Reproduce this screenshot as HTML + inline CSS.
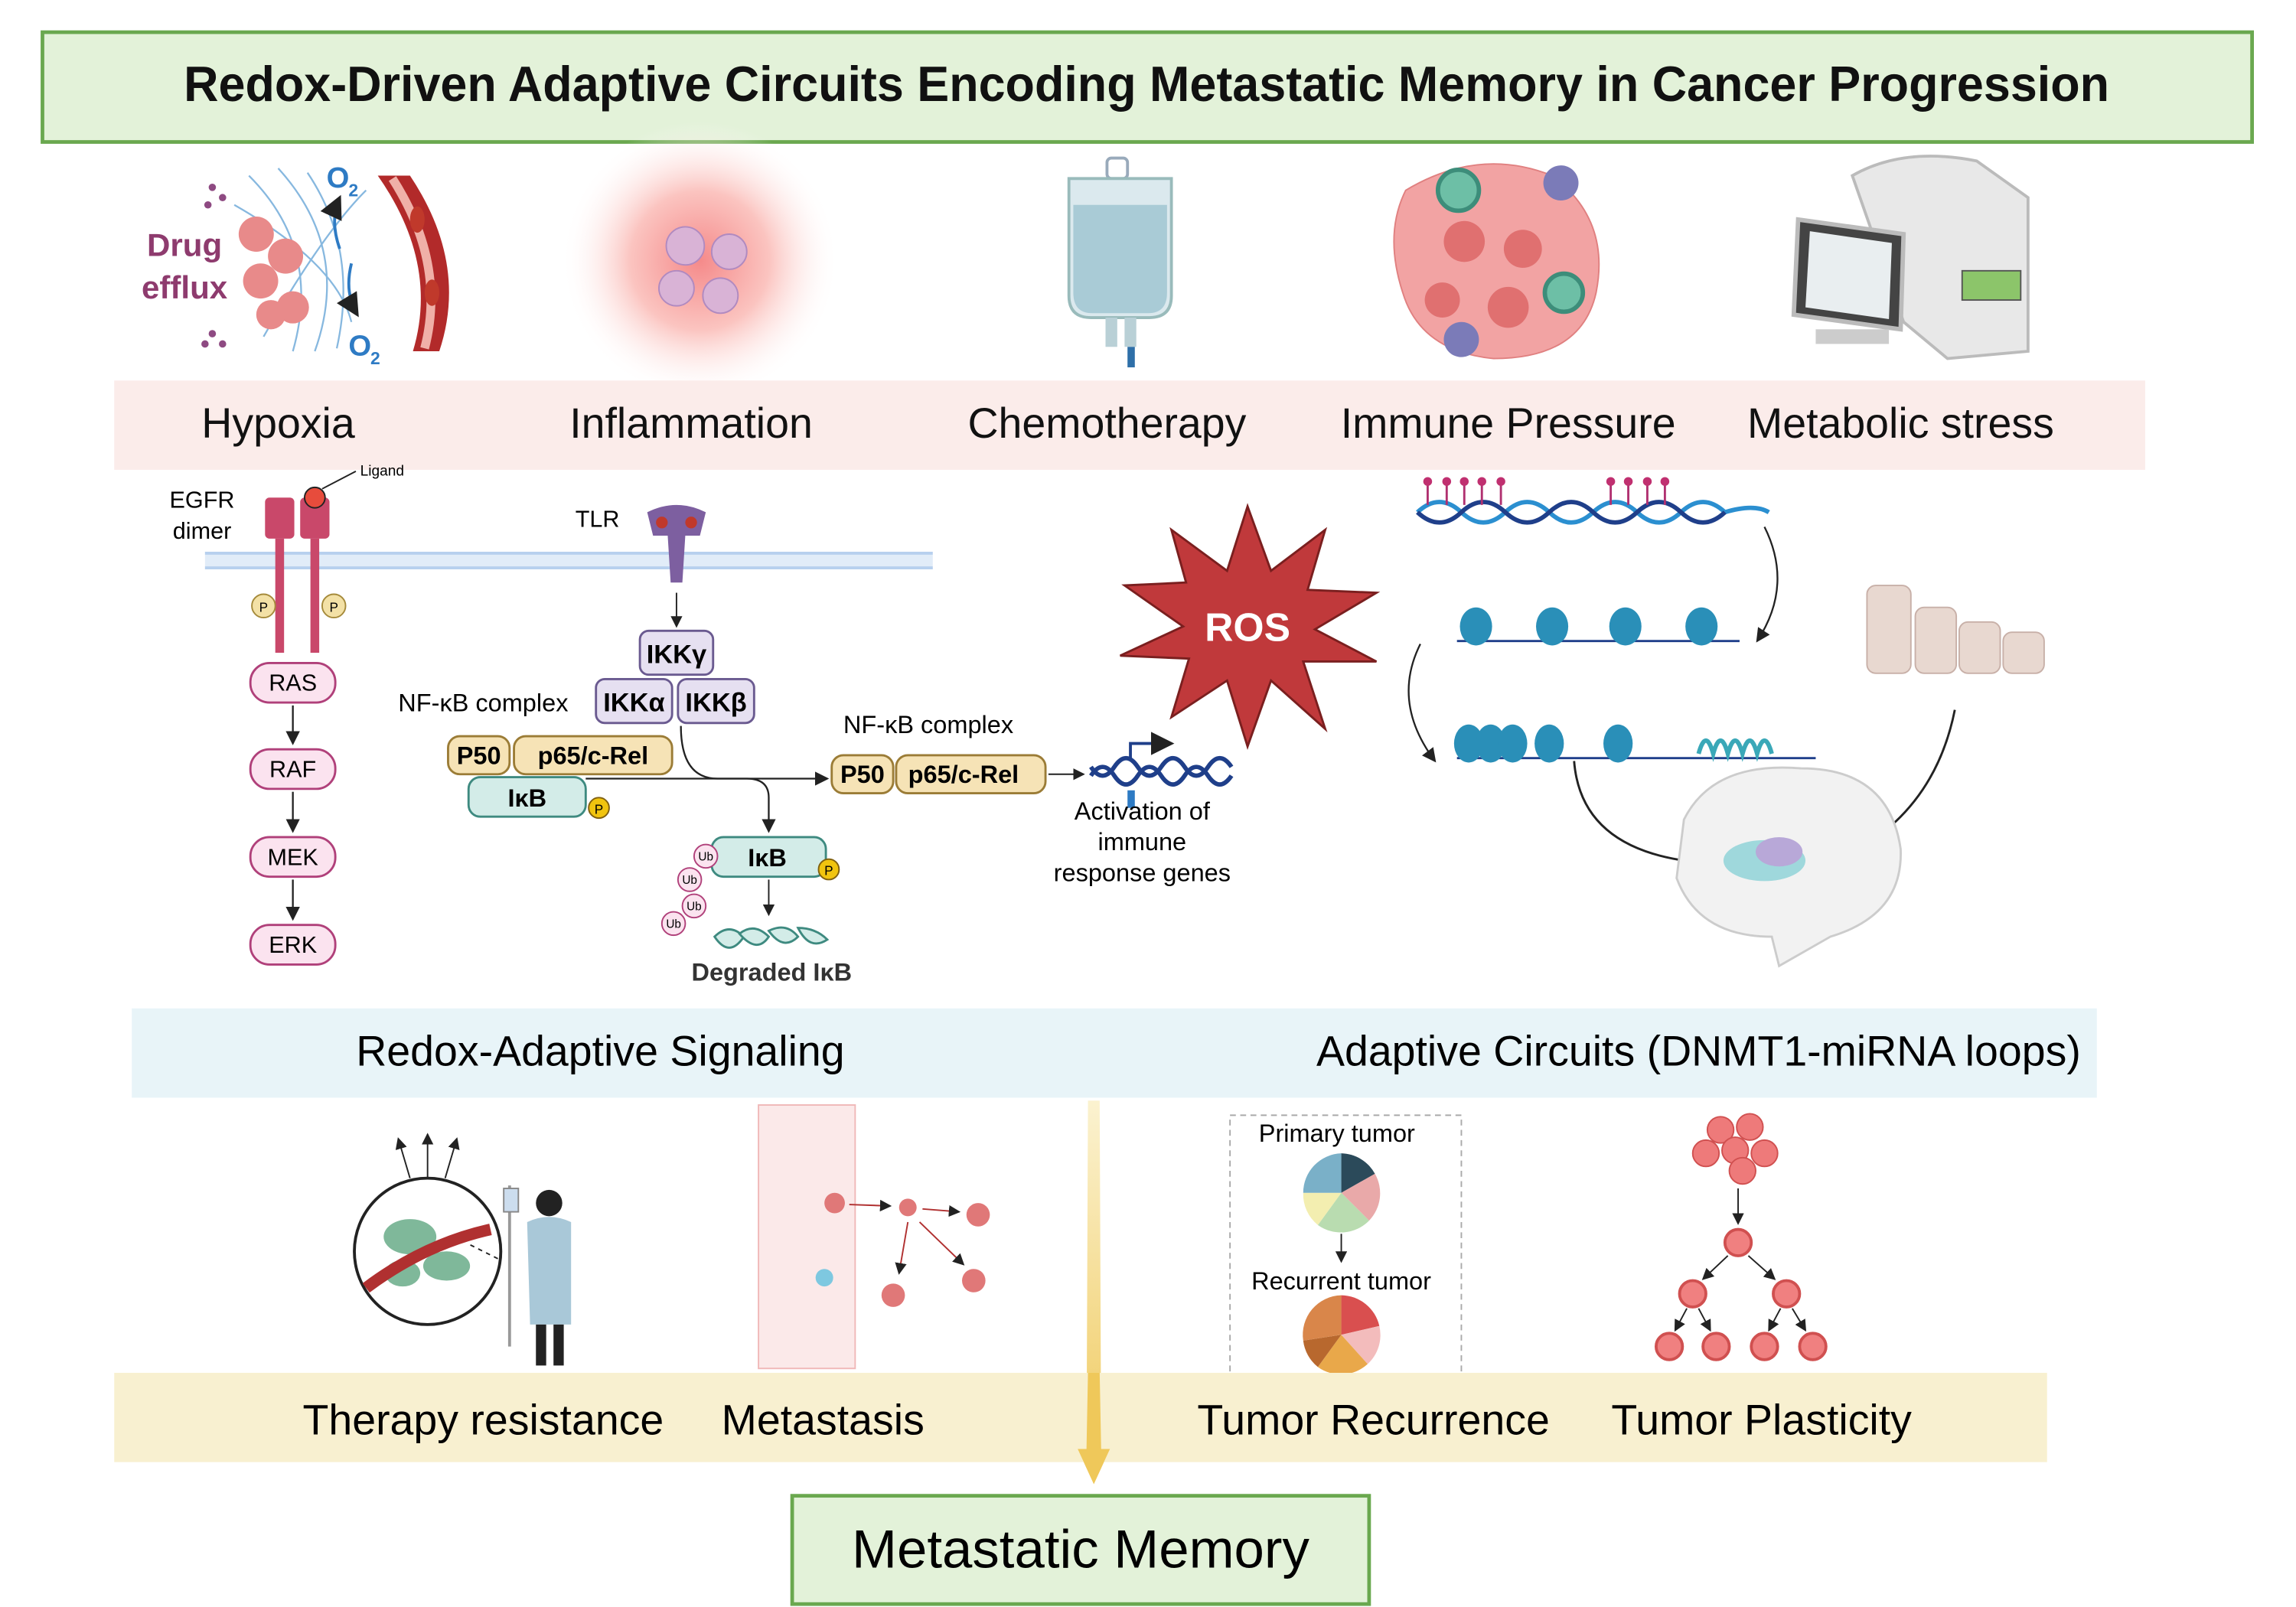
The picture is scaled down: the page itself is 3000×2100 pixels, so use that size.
<!DOCTYPE html>
<html><head><meta charset="utf-8"><style>
html,body{margin:0;padding:0;background:#fff;width:3000px;height:2100px;overflow:hidden}
svg{display:block}
text{font-family:"Liberation Sans",sans-serif}
</style></head><body>
<svg width="3000" height="2100" viewBox="0 0 1568 1098" preserveAspectRatio="none" xmlns="http://www.w3.org/2000/svg">
<defs>
<linearGradient id="ya" x1="0" y1="0" x2="0" y2="1"><stop offset="0" stop-color="#fbf2d0"/><stop offset="1" stop-color="#efc85a"/></linearGradient>
<radialGradient id="infl"><stop offset="0" stop-color="#f58a8a"/><stop offset="0.5" stop-color="#fbc4c0"/><stop offset="1" stop-color="#fff" stop-opacity="0"/></radialGradient>
<marker id="ar" markerWidth="8" markerHeight="8" refX="7" refY="4" orient="auto"><path d="M0,0 L8,4 L0,8 z" fill="#222"/></marker>
</defs>
<!-- title -->
<rect x="29" y="22" width="1509" height="75" fill="#e3f2d9" stroke="#6aa84f" stroke-width="2.5"/>
<text x="783" y="69" font-size="34" text-anchor="middle" fill="#111" font-weight="bold" textLength="1315" lengthAdjust="spacingAndGlyphs">Redox-Driven Adaptive Circuits Encoding Metastatic Memory in Cancer Progression</text>

<!-- top icons -->
<g>
 <path d="M258,120 Q300,180 282,240 L300,240 Q320,180 280,120 z" fill="#b22a2a"/>
 <path d="M268,122 Q305,180 290,238" stroke="#f0b0a8" stroke-width="6" fill="none"/>
 <ellipse cx="285" cy="150" rx="5" ry="9" fill="#c0392b"/><ellipse cx="295" cy="200" rx="5" ry="9" fill="#c0392b"/>
 <g stroke="#6aa7d8" stroke-width="1.2" fill="none" opacity="0.8">
  <path d="M170,120 Q220,170 200,240"/><path d="M190,115 Q240,170 215,240"/><path d="M210,118 Q245,170 230,238"/><path d="M160,140 Q230,180 240,220"/><path d="M180,230 Q220,160 250,130"/>
 </g>
 <g fill="#e88a8a"><circle cx="175" cy="160" r="12"/><circle cx="195" cy="175" r="12"/><circle cx="178" cy="192" r="12"/><circle cx="200" cy="210" r="11"/><circle cx="185" cy="215" r="10"/></g>
 <text x="126" y="175" font-size="22" fill="#8e3b6e" font-weight="bold" text-anchor="middle">Drug</text>
 <text x="126" y="204" font-size="22" fill="#8e3b6e" font-weight="bold" text-anchor="middle">efflux</text>
 <g fill="#8e4a82"><circle cx="145" cy="128" r="2.5"/><circle cx="152" cy="135" r="2.5"/><circle cx="142" cy="140" r="2.5"/><circle cx="145" cy="228" r="2.5"/><circle cx="152" cy="235" r="2.5"/><circle cx="140" cy="235" r="2.5"/></g>
 <text x="223" y="128" font-size="20" fill="#2e7bc4" font-weight="bold">O</text><text x="238" y="134" font-size="12" fill="#2e7bc4" font-weight="bold">2</text>
 <text x="238" y="243" font-size="20" fill="#2e7bc4" font-weight="bold">O</text><text x="253" y="249" font-size="12" fill="#2e7bc4" font-weight="bold">2</text>
 <path d="M232,170 Q225,150 232,135" stroke="#2e7bc4" stroke-width="2" fill="none" marker-end="url(#ar)"/>
 <path d="M240,180 Q235,200 244,215" stroke="#2e7bc4" stroke-width="2" fill="none" marker-end="url(#ar)"/>
</g>
<circle cx="478" cy="178" r="95" fill="url(#infl)"/>
<g fill="#d9b3d6" stroke="#b08ac0"><circle cx="468" cy="168" r="13"/><circle cx="498" cy="172" r="12"/><circle cx="462" cy="197" r="12"/><circle cx="492" cy="202" r="12"/></g>
<!-- IV bag -->
<g>
 <rect x="756" y="108" width="14" height="14" rx="3" fill="none" stroke="#9ab" stroke-width="2"/>
 <path d="M730,122 h70 v80 q0,15 -15,15 h-40 q-15,0 -15,-15 z" fill="#dbe9ee" stroke="#9bb" stroke-width="2"/>
 <path d="M733,140 h64 v60 q0,14 -13,14 h-38 q-13,0 -13,-14 z" fill="#a9cbd6"/>
 <rect x="755" y="217" width="8" height="20" fill="#b9d0d6"/><rect x="768" y="217" width="8" height="20" fill="#b9d0d6"/><rect x="770" y="237" width="5" height="14" fill="#2e6fa8"/>
</g>
<!-- immune -->
<g>
 <path d="M960,130 Q1010,100 1060,120 Q1100,150 1090,200 Q1080,245 1020,245 Q970,240 958,200 Q945,160 960,130 z" fill="#f2a3a3" stroke="#e08080"/>
 <g fill="#e07070"><circle cx="1000" cy="165" r="14"/><circle cx="1040" cy="170" r="13"/><circle cx="1030" cy="210" r="14"/><circle cx="985" cy="205" r="12"/></g>
 <circle cx="996" cy="130" r="14" fill="#6dbfa6" stroke="#3d8d7a" stroke-width="3"/>
 <circle cx="1066" cy="125" r="12" fill="#7b7bb8"/>
 <circle cx="1068" cy="200" r="13" fill="#6dbfa6" stroke="#3d8d7a" stroke-width="3"/>
 <circle cx="998" cy="232" r="12" fill="#7b7bb8"/>
</g>
<!-- machine -->
<g>
 <path d="M1265,120 Q1300,100 1350,110 L1385,135 L1385,240 L1330,245 L1300,220 z" fill="#e8e8e8" stroke="#bbb" stroke-width="2"/>
 <rect x="1340" y="185" width="40" height="20" fill="#8cc56a" stroke="#555"/>
 <path d="M1228,150 L1300,160 L1298,225 L1225,215 z" fill="#444" stroke="#bbb" stroke-width="3"/>
 <path d="M1236,158 L1292,166 L1290,218 L1233,210 z" fill="#e9eef0"/>
 <rect x="1240" y="225" width="50" height="10" fill="#ccc"/>
</g>

<!-- pink band -->
<rect x="78" y="260" width="1387" height="61" fill="#fbecea"/>
<g font-size="29" fill="#111" text-anchor="middle">
<text x="190" y="299">Hypoxia</text><text x="472" y="299">Inflammation</text><text x="756" y="299">Chemotherapy</text><text x="1030" y="299">Immune Pressure</text><text x="1298" y="299">Metabolic stress</text>
</g>

<!-- membrane -->
<rect x="140" y="377" width="497" height="12" fill="#e1ecf8"/>
<line x1="140" y1="378" x2="637" y2="378" stroke="#b7d0ee" stroke-width="2"/><line x1="140" y1="388" x2="637" y2="388" stroke="#b7d0ee" stroke-width="2"/>
<!-- EGFR -->
<text x="138" y="347" font-size="16" text-anchor="middle">EGFR</text><text x="138" y="368" font-size="16" text-anchor="middle">dimer</text>
<rect x="181" y="340" width="20" height="28" rx="3" fill="#c9486a"/><rect x="205" y="340" width="20" height="28" rx="3" fill="#c9486a"/>
<rect x="188" y="368" width="6" height="78" fill="#c9486a"/><rect x="212" y="368" width="6" height="78" fill="#c9486a"/>
<circle cx="215" cy="340" r="7" fill="#e74c3c" stroke="#222"/>
<line x1="220" y1="334" x2="243" y2="322" stroke="#222"/><text x="246" y="325" font-size="10">Ligand</text>
<circle cx="180" cy="414" r="8" fill="#f3e1a6" stroke="#a58a3a"/><text x="180" y="418" font-size="9" text-anchor="middle">P</text>
<circle cx="228" cy="414" r="8" fill="#f3e1a6" stroke="#a58a3a"/><text x="228" y="418" font-size="9" text-anchor="middle">P</text>
<g font-size="16" text-anchor="middle">
 <rect x="171" y="453" width="58" height="27" rx="13" fill="#fbe3ef" stroke="#b0407a" stroke-width="1.5"/><text x="200" y="472">RAS</text>
 <rect x="171" y="512" width="58" height="27" rx="13" fill="#fbe3ef" stroke="#b0407a" stroke-width="1.5"/><text x="200" y="531">RAF</text>
 <rect x="171" y="572" width="58" height="27" rx="13" fill="#fbe3ef" stroke="#b0407a" stroke-width="1.5"/><text x="200" y="591">MEK</text>
 <rect x="171" y="632" width="58" height="27" rx="13" fill="#fbe3ef" stroke="#b0407a" stroke-width="1.5"/><text x="200" y="651">ERK</text>
</g>
<g stroke="#222" stroke-width="1.2" marker-end="url(#ar)"><line x1="200" y1="482" x2="200" y2="508"/><line x1="200" y1="541" x2="200" y2="568"/><line x1="200" y1="601" x2="200" y2="628"/></g>
<!-- TLR -->
<text x="408" y="360" font-size="16" text-anchor="middle">TLR</text>
<path d="M442,350 Q462,340 482,350 L478,366 L468,366 L466,398 L458,398 L456,366 L446,366 z" fill="#7d5fa0"/>
<circle cx="452" cy="357" r="4" fill="#c0392b"/><circle cx="472" cy="357" r="4" fill="#c0392b"/>
<line x1="462" y1="405" x2="462" y2="428" stroke="#222" marker-end="url(#ar)"/>
<g font-size="18" text-anchor="middle" font-weight="bold">
 <rect x="437" y="431" width="50" height="30" rx="6" fill="#e6e0f1" stroke="#6a5a90" stroke-width="1.5"/><text x="462" y="453">IKKγ</text>
 <rect x="407" y="464" width="52" height="30" rx="6" fill="#e6e0f1" stroke="#6a5a90" stroke-width="1.5"/><text x="433" y="486">IKKα</text>
 <rect x="463" y="464" width="52" height="30" rx="6" fill="#e6e0f1" stroke="#6a5a90" stroke-width="1.5"/><text x="489" y="486">IKKβ</text>
</g>
<text x="330" y="486" font-size="17" text-anchor="middle">NF-κB complex</text>
<g font-size="17" text-anchor="middle" font-weight="bold">
 <rect x="306" y="503" width="42" height="26" rx="8" fill="#f6e3b6" stroke="#9b7c36" stroke-width="1.5"/><text x="327" y="522">P50</text>
 <rect x="351" y="503" width="108" height="26" rx="8" fill="#f6e3b6" stroke="#9b7c36" stroke-width="1.5"/><text x="405" y="522">p65/c-Rel</text>
 <rect x="320" y="531" width="80" height="27" rx="8" fill="#d3ece8" stroke="#3e8a80" stroke-width="1.5"/><text x="360" y="551">IκB</text>
</g>
<circle cx="409" cy="552" r="7" fill="#f1c40f" stroke="#806010"/><text x="409" y="556" font-size="9" text-anchor="middle">P</text>
<path d="M465,496 Q465,532 490,532 L565,532" stroke="#222" fill="none" stroke-width="1.2" marker-end="url(#ar)"/>
<path d="M400,532 L510,532 Q525,532 525,545 L525,568" stroke="#222" fill="none" stroke-width="1.2" marker-end="url(#ar)"/>
<text x="634" y="501" font-size="17" text-anchor="middle">NF-κB complex</text>
<g font-size="17" text-anchor="middle" font-weight="bold">
 <rect x="568" y="516" width="42" height="26" rx="8" fill="#f6e3b6" stroke="#9b7c36" stroke-width="1.5"/><text x="589" y="535">P50</text>
 <rect x="612" y="516" width="102" height="26" rx="8" fill="#f6e3b6" stroke="#9b7c36" stroke-width="1.5"/><text x="658" y="535">p65/c-Rel</text>
 <rect x="486" y="572" width="78" height="27" rx="8" fill="#d3ece8" stroke="#3e8a80" stroke-width="1.5"/><text x="524" y="592">IκB</text>
</g>
<circle cx="566" cy="594" r="7" fill="#f1c40f" stroke="#806010"/><text x="566" y="598" font-size="9" text-anchor="middle">P</text>
<g fill="#fbe3ef" stroke="#b0407a"><circle cx="482" cy="585" r="8"/><circle cx="471" cy="601" r="8"/><circle cx="474" cy="619" r="8"/><circle cx="460" cy="631" r="8"/></g>
<g font-size="8" text-anchor="middle"><text x="482" y="588">Ub</text><text x="471" y="604">Ub</text><text x="474" y="622">Ub</text><text x="460" y="634">Ub</text></g>
<line x1="525" y1="601" x2="525" y2="625" stroke="#222" marker-end="url(#ar)"/>
<g fill="#d3ece8" stroke="#3e8a80" stroke-width="1.5"><path d="M488,640 q10,-10 20,0 q-10,15 -20,0z"/><path d="M505,638 q10,-8 20,2 q-8,12 -20,-2z"/><path d="M525,636 q12,-6 20,4 q-10,10 -20,-4z"/><path d="M545,634 q12,0 20,8 q-12,8 -20,-8z"/></g>
<text x="527" y="670" font-size="17" text-anchor="middle" font-weight="bold" fill="#333">Degraded IκB</text>
<line x1="716" y1="529" x2="740" y2="529" stroke="#222" marker-end="url(#ar)"/>
<path d="M745,530 q8,-12 16,0 t16,0 t16,0 t16,0 t16,0 t16,0" stroke="#1f3f8a" stroke-width="3" fill="none"/>
<path d="M745,524 q8,12 16,0 t16,0 t16,0 t16,0 t16,0 t16,0" stroke="#1f3f8a" stroke-width="3" fill="none"/>
<path d="M772,518 v-10 h28" stroke="#1f3f8a" stroke-width="2" fill="none" marker-end="url(#ar)"/>
<rect x="770" y="540" width="5" height="12" fill="#2e7bc4"/>
<g font-size="17" text-anchor="middle"><text x="780" y="560">Activation of</text><text x="780" y="581">immune</text><text x="780" y="602">response genes</text></g>
<!-- ROS -->
<polygon points="852,346 868,390 905,362 893,403 940,405 898,430 940,452 890,452 905,498 868,465 852,510 838,465 800,490 812,450 765,448 808,428 768,400 810,398 800,362 838,390" fill="#c0393b" stroke="#7a1f1f" stroke-width="1.5"/>
<text x="852" y="438" font-size="27" fill="#fff" text-anchor="middle" font-weight="bold">ROS</text>
<!-- epigenetics -->
<path d="M968,350 q15,-14 30,0 t30,0 t30,0 t30,0 t30,0 t30,0 t30,0 q20,-6 30,0" stroke="#2b8fd0" stroke-width="3" fill="none"/>
<path d="M968,350 q15,14 30,0 t30,0 t30,0 t30,0 t30,0 t30,0 t30,0" stroke="#1f3f8a" stroke-width="3" fill="none"/>
<g stroke="#b03070" stroke-width="1.5"><line x1="975" y1="345" x2="975" y2="330"/><line x1="988" y1="345" x2="988" y2="330"/><line x1="1000" y1="345" x2="1000" y2="330"/><line x1="1012" y1="345" x2="1012" y2="330"/><line x1="1025" y1="345" x2="1025" y2="330"/><line x1="1100" y1="345" x2="1100" y2="330"/><line x1="1112" y1="345" x2="1112" y2="330"/><line x1="1125" y1="345" x2="1125" y2="330"/><line x1="1137" y1="345" x2="1137" y2="330"/></g>
<g fill="#c03070"><circle cx="975" cy="329" r="3"/><circle cx="988" cy="329" r="3"/><circle cx="1000" cy="329" r="3"/><circle cx="1012" cy="329" r="3"/><circle cx="1025" cy="329" r="3"/><circle cx="1100" cy="329" r="3"/><circle cx="1112" cy="329" r="3"/><circle cx="1125" cy="329" r="3"/><circle cx="1137" cy="329" r="3"/></g>
<path d="M1205,360 Q1225,400 1200,438" stroke="#222" fill="none" stroke-width="1.2" marker-end="url(#ar)"/>
<line x1="995" y1="438" x2="1188" y2="438" stroke="#1f3f8a" stroke-width="1.5"/>
<g fill="#2a8fb8"><ellipse cx="1008" cy="428" rx="11" ry="13"/><ellipse cx="1060" cy="428" rx="11" ry="13"/><ellipse cx="1110" cy="428" rx="11" ry="13"/><ellipse cx="1162" cy="428" rx="11" ry="13"/></g>
<path d="M970,440 Q950,480 980,520" stroke="#222" fill="none" stroke-width="1.2" marker-end="url(#ar)"/>
<line x1="995" y1="518" x2="1240" y2="518" stroke="#1f3f8a" stroke-width="1.5"/>
<g fill="#2a8fb8"><ellipse cx="1003" cy="508" rx="10" ry="13"/><ellipse cx="1018" cy="508" rx="10" ry="13"/><ellipse cx="1033" cy="508" rx="10" ry="13"/><ellipse cx="1058" cy="508" rx="10" ry="13"/><ellipse cx="1105" cy="508" rx="10" ry="13"/></g>
<path d="M1160,515 q5,-18 10,0 q5,-18 10,0 q5,-18 10,0 q5,-18 10,0 q5,-18 10,0" stroke="#3aa8b8" stroke-width="3" fill="none"/>
<path d="M1075,520 Q1080,585 1170,590" stroke="#222" fill="none" stroke-width="1.5" marker-end="url(#ar)"/>
<path d="M1335,485 Q1320,560 1250,590" stroke="#222" fill="none" stroke-width="1.5" marker-end="url(#ar)"/>
<path d="M1150,560 Q1170,520 1230,525 Q1290,525 1298,580 Q1300,625 1250,640 L1215,660 L1210,640 Q1160,640 1145,600 z" fill="#f2f2f2" stroke="#ccc" stroke-width="1.5"/>
<ellipse cx="1205" cy="588" rx="28" ry="14" fill="#9fd8dc"/><ellipse cx="1215" cy="582" rx="16" ry="10" fill="#b8a8d8"/>
<g fill="#e8d8d0" stroke="#c8b0a8"><rect x="1275" y="400" width="30" height="60" rx="6"/><rect x="1308" y="415" width="28" height="45" rx="6"/><rect x="1338" y="425" width="28" height="35" rx="6"/><rect x="1368" y="432" width="28" height="28" rx="6"/></g>

<!-- blue band -->
<rect x="90" y="689" width="1342" height="61" fill="#e8f4f8"/>
<text x="410" y="728" font-size="29" text-anchor="middle">Redox-Adaptive Signaling</text>
<text x="1160" y="728" font-size="29" text-anchor="middle">Adaptive Circuits (DNMT1-miRNA loops)</text>

<!-- yellow arrow -->
<polygon points="743,752 751,752 752,990 758,990 747,1014 736,990 742,990" fill="url(#ya)"/>

<!-- bottom icons -->
<circle cx="292" cy="855" r="50" fill="#fff" stroke="#222" stroke-width="2"/>
<g fill="#7fb89a"><ellipse cx="280" cy="845" rx="18" ry="12"/><ellipse cx="305" cy="865" rx="16" ry="10"/><ellipse cx="275" cy="870" rx="12" ry="9"/></g>
<path d="M250,880 Q290,850 335,840" stroke="#b03030" stroke-width="8" fill="none"/>
<g stroke="#222" stroke-width="1" marker-end="url(#ar)"><line x1="280" y1="805" x2="272" y2="778"/><line x1="292" y1="805" x2="292" y2="775"/><line x1="304" y1="805" x2="312" y2="778"/></g>
<line x1="348" y1="810" x2="348" y2="920" stroke="#999" stroke-width="2"/>
<rect x="344" y="812" width="10" height="16" fill="#cde" stroke="#888"/>
<circle cx="375" cy="822" r="9" fill="#222"/>
<path d="M360,835 Q375,828 390,835 L390,905 L362,905 z" fill="#a9c8d8"/>
<rect x="366" y="905" width="7" height="28" fill="#222"/><rect x="378" y="905" width="7" height="28" fill="#222"/>
<line x1="340" y1="860" x2="320" y2="850" stroke="#222" stroke-dasharray="3,3"/>
<rect x="518" y="755" width="66" height="180" fill="#fbe9e9" stroke="#f0b8b8"/>
<g fill="#e07878"><circle cx="570" cy="822" r="7"/><circle cx="620" cy="825" r="6"/><circle cx="610" cy="885" r="8"/><circle cx="665" cy="875" r="8"/><circle cx="668" cy="830" r="8"/></g>
<circle cx="563" cy="873" r="6" fill="#7ec8e0"/>
<g stroke="#b03030" stroke-width="1" marker-end="url(#ar)" fill="none"><line x1="580" y1="823" x2="608" y2="824"/><line x1="630" y1="826" x2="655" y2="828"/><line x1="620" y1="835" x2="614" y2="870"/><line x1="628" y1="835" x2="658" y2="864"/></g>
<rect x="840" y="762" width="158" height="178" fill="none" stroke="#aaa" stroke-dasharray="4,3"/>
<text x="913" y="780" font-size="17" text-anchor="middle">Primary tumor</text>
<g transform="translate(916,815)"><path d="M0,0 L0,-27 A27,27 0 0 1 23,-13 z" fill="#2b4a5a"/><path d="M0,0 L23,-13 A27,27 0 0 1 19,19 z" fill="#e9a9a9"/><path d="M0,0 L19,19 A27,27 0 0 1 -16,22 z" fill="#b9dcb0"/><path d="M0,0 L-16,22 A27,27 0 0 1 -26,0 z" fill="#f3eeb0"/><path d="M0,0 L-26,0 A27,27 0 0 1 0,-27 z" fill="#7ab0c8"/></g>
<line x1="916" y1="843" x2="916" y2="862" stroke="#222" marker-end="url(#ar)"/>
<text x="916" y="881" font-size="17" text-anchor="middle">Recurrent tumor</text>
<g transform="translate(916,912)"><path d="M0,0 L0,-27 A27,27 0 0 1 26,-6 z" fill="#d94f4f"/><path d="M0,0 L26,-6 A27,27 0 0 1 18,20 z" fill="#f3bcbc"/><path d="M0,0 L18,20 A27,27 0 0 1 -16,22 z" fill="#e9a84a"/><path d="M0,0 L-16,22 A27,27 0 0 1 -26,4 z" fill="#b8682e"/><path d="M0,0 L-26,4 A27,27 0 0 1 0,-27 z" fill="#d9864a"/></g>
<g fill="#ee7a7a" stroke="#d05050"><circle cx="1175" cy="772" r="9"/><circle cx="1195" cy="770" r="9"/><circle cx="1165" cy="788" r="9"/><circle cx="1185" cy="786" r="9"/><circle cx="1205" cy="788" r="9"/><circle cx="1190" cy="800" r="9"/></g>
<g fill="#f08080" stroke="#d05050" stroke-width="2"><circle cx="1187" cy="849" r="9"/><circle cx="1156" cy="884" r="9"/><circle cx="1220" cy="884" r="9"/><circle cx="1140" cy="920" r="9"/><circle cx="1172" cy="920" r="9"/><circle cx="1205" cy="920" r="9"/><circle cx="1238" cy="920" r="9"/></g>
<g stroke="#222" stroke-width="1" marker-end="url(#ar)"><line x1="1187" y1="812" x2="1187" y2="836"/><line x1="1180" y1="858" x2="1163" y2="874"/><line x1="1194" y1="858" x2="1212" y2="874"/><line x1="1152" y1="894" x2="1144" y2="909"/><line x1="1160" y1="894" x2="1168" y2="909"/><line x1="1216" y1="894" x2="1208" y2="909"/><line x1="1224" y1="894" x2="1233" y2="909"/></g>

<!-- yellow band -->
<rect x="78" y="938" width="1320" height="61" fill="#f8f0d0"/>
<polygon points="743,938 751,938 752,990 758,990 747,1014 736,990 742,990" fill="#efc85a"/>
<g font-size="29" text-anchor="middle"><text x="330" y="980">Therapy resistance</text><text x="562" y="980">Metastasis</text><text x="938" y="980">Tumor Recurrence</text><text x="1203" y="980">Tumor Plasticity</text></g>

<!-- bottom box -->
<rect x="541" y="1022" width="394" height="74" fill="#e3f2d9" stroke="#6aa84f" stroke-width="2.5"/>
<text x="738" y="1071" font-size="37" text-anchor="middle">Metastatic Memory</text>
</svg>
</body></html>
